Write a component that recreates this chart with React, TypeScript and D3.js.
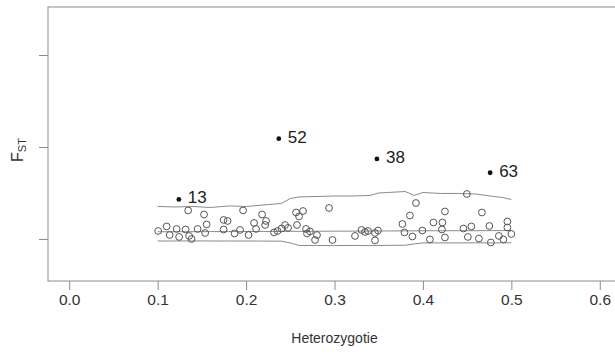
import { useEffect, useRef } from 'react'
import * as d3 from 'd3'

// heterozygosity / Fst for every locus (open circles)
const lociHet = [
  0.1006, 0.1102, 0.1136, 0.1215, 0.1243, 0.1316, 0.1345, 0.1356, 0.1384, 0.1452,
  0.1525, 0.1537, 0.1554, 0.1746, 0.1791, 0.1746, 0.187, 0.1932, 0.1966, 0.2028,
  0.209, 0.2113, 0.2181, 0.2215, 0.2226, 0.2316, 0.2356, 0.2401, 0.2441, 0.2475,
  0.2565, 0.2644, 0.2599, 0.2576, 0.2678, 0.2723, 0.2689, 0.2802, 0.278, 0.2938,
  0.2977, 0.3232, 0.3305, 0.3345, 0.3379, 0.3458, 0.3492, 0.3458, 0.3768, 0.3853,
  0.3921, 0.3791, 0.3881, 0.3994, 0.4079, 0.4119, 0.422, 0.4215, 0.4249, 0.4249,
  0.4458, 0.4497, 0.4548, 0.4508, 0.4633, 0.4667, 0.4751, 0.4768, 0.4859, 0.491,
  0.4955, 0.4955, 0.5,
]
const lociFst = [
  0.0087, 0.0136, 0.0043, 0.0109, 0.0022, 0.0103, 0.031, 0.0033, 0.0, 0.0109,
  0.0266, 0.0065, 0.0158, 0.0207, 0.0196, 0.0103, 0.006, 0.0098, 0.031, 0.0043,
  0.0174, 0.0109, 0.0266, 0.0152, 0.0196, 0.0071, 0.0087, 0.0114, 0.0152, 0.012,
  0.0288, 0.0304, 0.0245, 0.0152, 0.0109, 0.0082, 0.006, 0.0043, -0.0011, 0.0337,
  -0.0011, 0.0033, 0.0098, 0.0076, 0.0087, 0.0065, 0.0092, -0.0016, 0.0163, 0.0255,
  0.0391, 0.0071, 0.0027, 0.0092, -0.0005, 0.0179, 0.0179, 0.0103, 0.0299, 0.0016,
  0.0114, 0.0489, 0.0136, 0.0022, 0.0005, 0.0288, 0.0141, -0.0038, 0.0033, -0.0005,
  0.019, 0.0125, 0.0054,
]

// outlier loci (filled dots with labels)
const outlierNames = ['13', '52', '38', '63']
const outlierHet = [0.124, 0.237, 0.348, 0.476]
const outlierFst = [0.043, 0.109, 0.087, 0.072]

// simulated envelope (upper quantile, median, lower quantile)
const envHet = [
  0.1, 0.12, 0.14, 0.16, 0.18, 0.2, 0.22, 0.24, 0.25, 0.26, 0.28, 0.3, 0.32,
  0.34, 0.35, 0.36, 0.38, 0.39, 0.4, 0.42, 0.44, 0.46, 0.48, 0.49, 0.5,
]
const envUpper = [
  0.0353, 0.0348, 0.0353, 0.0342, 0.0359, 0.0353, 0.037, 0.0386, 0.044, 0.0457,
  0.0462, 0.0467, 0.0467, 0.0473, 0.05, 0.0505, 0.0516, 0.0473, 0.0505, 0.0495,
  0.0495, 0.0489, 0.0462, 0.0451, 0.0429,
]
const envMedian = [
  0.0078, 0.0079, 0.0079, 0.008, 0.008, 0.0081, 0.0082, 0.0082, 0.0083, 0.0083,
  0.0084, 0.0085, 0.0085, 0.0086, 0.0087, 0.0087, 0.0088, 0.0088, 0.0089, 0.0089,
  0.009, 0.009, 0.0091, 0.0091, 0.0092,
]
const envLower = [
  -0.0022, -0.0022, -0.0021, -0.0022, -0.0022, -0.0022, -0.0023, -0.0024, -0.0043, -0.0071,
  -0.0071, -0.0072, -0.0071, -0.0072, -0.0071, -0.007, -0.0068, -0.0054, -0.0043, -0.0043,
  -0.0043, -0.0042, -0.0043, -0.0042, -0.0042,
]

const xTicks = [0, 0.1, 0.2, 0.3, 0.4, 0.5, 0.6]
const yTicks = [0, 0.1, 0.2]

const FONT = '"Liberation Sans", Arial, Helvetica, sans-serif'

export default function App() {
  const svgRef = useRef<SVGSVGElement>(null)

  useEffect(() => {
    document.body.style.margin = '0'
    const W = 615
    const H = 359
    const x = d3.scaleLinear().domain([-0.024, 0.624]).range([48, 621])
    const y = d3.scaleLinear().domain([-0.0457, 0.2522]).range([281, 7])

    const svg = d3.select(svgRef.current)
    svg.selectAll('*').remove()
    svg.attr('width', W).attr('height', H)

    // frame
    svg.append('rect')
      .attr('x', x.range()[0])
      .attr('y', y.range()[1])
      .attr('width', x.range()[1] - x.range()[0])
      .attr('height', y.range()[0] - y.range()[1])
      .attr('fill', 'none')
      .attr('stroke', '#8c8c8c')
      .attr('stroke-width', 1)

    // axes
    svg.append('g')
      .attr('transform', `translate(0,${y.range()[0]})`)
      .call(d3.axisBottom(x).tickValues(xTicks).tickSize(9).tickPadding(4).tickFormat(d3.format('.1f')))
      .call((g) => g.select('.domain').remove())
      .call((g) => g.selectAll('.tick line').attr('stroke', '#8c8c8c'))
      .call((g) => g.selectAll('text').attr('fill', '#333').attr('font-size', 15.5).attr('font-family', FONT))

    svg.append('g')
      .attr('transform', `translate(${x.range()[0]},0)`)
      .call(d3.axisLeft(y).tickValues(yTicks).tickSize(9).tickFormat(() => ''))
      .call((g) => g.select('.domain').remove())
      .call((g) => g.selectAll('.tick line').attr('stroke', '#8c8c8c'))

    // axis titles
    svg.append('text')
      .attr('x', (x.range()[0] + x.range()[1]) / 2)
      .attr('y', 343)
      .attr('text-anchor', 'middle')
      .attr('font-size', 14)
      .attr('font-family', FONT)
      .attr('fill', '#333')
      .text('Heterozygotie')

    const fst = svg.append('text')
      .attr('transform', 'translate(23,150) rotate(-90)')
      .attr('text-anchor', 'middle')
      .attr('font-size', 16)
      .attr('font-family', FONT)
      .attr('fill', '#333')
    fst.append('tspan').text('F')
    fst.append('tspan').attr('font-size', 11).attr('dy', 3).text('ST')

    // envelope lines
    const line = d3.line<number>()
      .x((_, i) => x(envHet[i]))
      .y((d) => y(d))
    ;[envUpper, envMedian, envLower].forEach((s) => {
      svg.append('path')
        .datum(s)
        .attr('fill', 'none')
        .attr('stroke', '#8a8a8a')
        .attr('stroke-width', 1)
        .attr('d', line)
    })

    // loci
    svg.append('g')
      .selectAll('circle')
      .data(lociHet)
      .join('circle')
      .attr('cx', (d) => x(d))
      .attr('cy', (_, i) => y(lociFst[i]))
      .attr('r', 3.4)
      .attr('fill', 'none')
      .attr('stroke', '#555')
      .attr('stroke-width', 1)

    // outliers
    const out = svg.append('g')
    out.selectAll('circle')
      .data(outlierHet)
      .join('circle')
      .attr('cx', (d) => x(d))
      .attr('cy', (_, i) => y(outlierFst[i]))
      .attr('r', 2.4)
      .attr('fill', '#111')
    out.selectAll('text')
      .data(outlierNames)
      .join('text')
      .attr('x', (_, i) => x(outlierHet[i]) + 9)
      .attr('y', (_, i) => y(outlierFst[i]) - 2)
      .attr('dy', '0.35em')
      .attr('font-size', 17)
      .attr('font-family', FONT)
      .attr('fill', '#222')
      .text((d) => d)
  }, [])

  return <svg ref={svgRef} style={{ display: 'block' }} />
}
